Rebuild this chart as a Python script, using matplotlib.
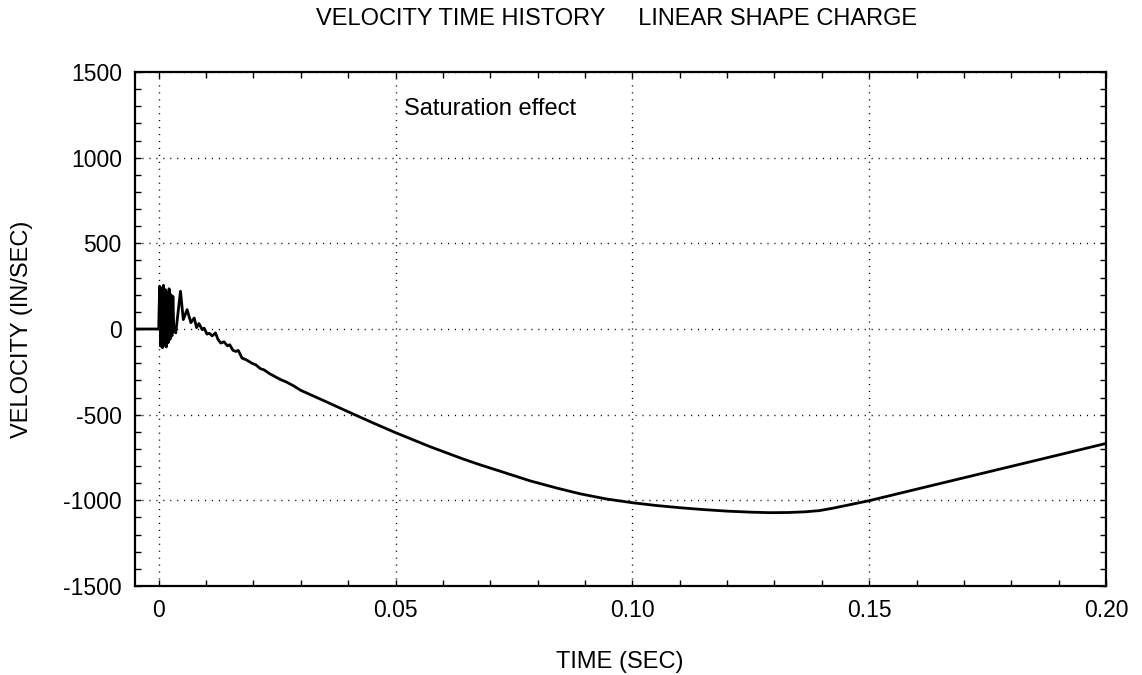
import matplotlib
matplotlib.use("Agg")
import matplotlib.pyplot as plt
from matplotlib.ticker import MultipleLocator, FixedLocator

plt.rcParams['font.family'] = ['Liberation Sans', 'DejaVu Sans']

# ---- data ----
time_s = [
    -0.0050, 0.0000,
    0.0002, 0.0004, 0.0006, 0.0008, 0.0010, 0.0012, 0.0014, 0.0016,
    0.0018, 0.0020, 0.0022, 0.0024, 0.0026, 0.0028, 0.0030, 0.0032,
    0.0036, 0.0046, 0.0052, 0.0060, 0.0068, 0.0075, 0.0080, 0.0085,
    0.0092, 0.0096, 0.0102, 0.0107, 0.0113, 0.0120, 0.0125, 0.0131,
    0.0138, 0.0145, 0.0150, 0.0157, 0.0163, 0.0168, 0.0176, 0.0185,
    0.0197, 0.0205, 0.0215, 0.0222, 0.0235, 0.0245, 0.0258, 0.0270,
    0.0285, 0.0300, 0.0350, 0.0400, 0.0450, 0.0500,
    0.0574, 0.0644, 0.0679, 0.0730, 0.0785, 0.0840, 0.0890, 0.0945,
    0.1000, 0.1050, 0.1100, 0.1150, 0.1200, 0.1250, 0.1290, 0.1330,
    0.1365, 0.1395, 0.1425, 0.1460, 0.1500, 0.1600, 0.1750, 0.1900, 0.2000,
]
velocity = [
    0, 0,
    250, -100, 240, -110, 255, -95, 230, -105,
    215, -80, 235, -60, 200, -40, 190, -10,
    -23, 220, 55, 113, 37, 64, 8, 32,
    -4, 5, -30, -25, -40, -23, -60, -82,
    -75, -98, -92, -125, -131, -125, -170, -180,
    -200, -209, -232, -238, -262, -277, -296, -310,
    -332, -358, -420, -483, -545, -605,
    -688, -760, -793, -838, -887, -928, -962, -992,
    -1014, -1030, -1043, -1054, -1063, -1069, -1072, -1071,
    -1067, -1060, -1045, -1025, -1002, -935, -835, -735, -668,
]
x_ticks = [0, 0.05, 0.10, 0.15, 0.20]
x_ticklabels = ["0", "0.05", "0.10", "0.15", "0.20"]
y_ticks = [-1500, -1000, -500, 0, 500, 1000, 1500]
y_ticklabels = ["-1500", "-1000", "-500", "0", "500", "1000", "1500"]

W, H = 1142, 675
fig = plt.figure(figsize=(W / 100, H / 100), dpi=100)
ax = fig.add_axes([135 / W, 1 - 586 / H, (1106 - 135) / W, (586 - 72) / H])

ax.plot(time_s, velocity, color='black', lw=2.0, solid_joinstyle='round')

ax.set_xlim(-0.005, 0.20)
ax.set_ylim(-1500, 1500)
ax.xaxis.set_major_locator(FixedLocator(x_ticks))
ax.set_xticklabels(x_ticklabels)
ax.yaxis.set_major_locator(FixedLocator(y_ticks))
ax.set_yticklabels(y_ticklabels)
ax.xaxis.set_minor_locator(MultipleLocator(0.01))
ax.yaxis.set_minor_locator(MultipleLocator(100))

ax.tick_params(which='both', direction='in', top=True, right=True,
               color='black', width=1.0)
ax.tick_params(which='major', length=4, labelsize=16.5, pad=9.5)
ax.tick_params(which='minor', length=4)

ax.grid(True, which='major', color='black', lw=1.0, linestyle=(0, (0.8, 4.2)))
for s in ax.spines.values():
    s.set_linewidth(1.6)

ax.text(0.0517, 1285, "Saturation effect", fontsize=17, ha='left', va='center')

fig.text(616.5 / W, 1 - 19 / H, "VELOCITY TIME HISTORY     LINEAR SHAPE CHARGE",
         fontsize=17, ha='center', va='center')
fig.text(620 / W, 1 - 662 / H, "TIME (SEC)", fontsize=17, ha='center', va='center')
fig.text(22 / W, 1 - 329 / H, "VELOCITY (IN/SEC)", fontsize=17, rotation=90,
         ha='center', va='center')

fig.savefig("out.png", dpi=100)
